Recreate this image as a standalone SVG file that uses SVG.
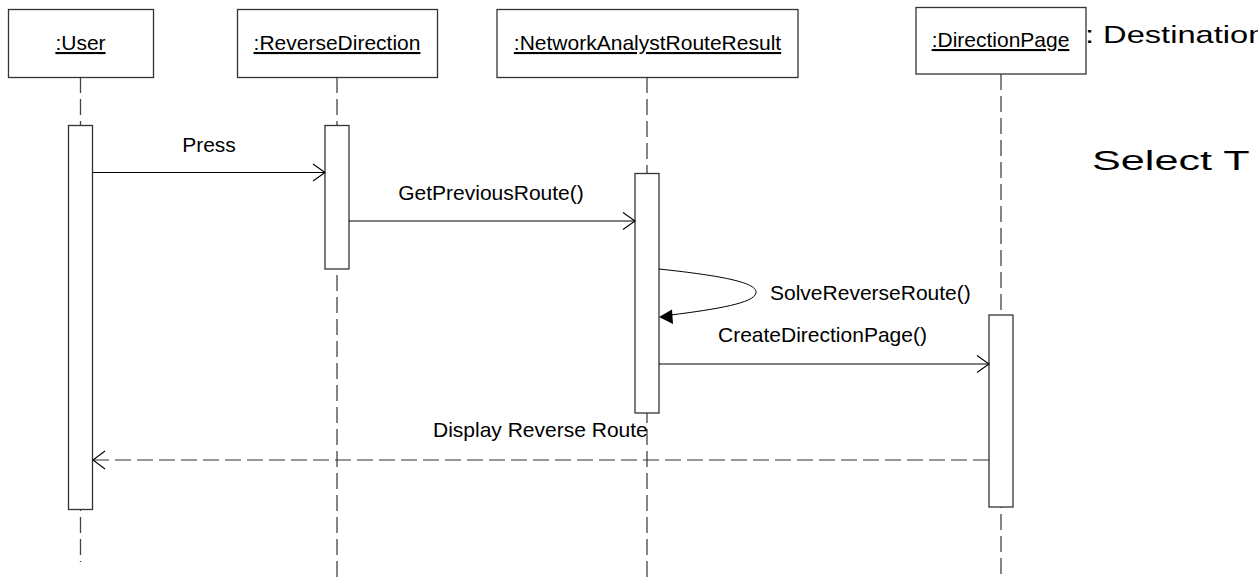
<svg xmlns="http://www.w3.org/2000/svg" width="1258" height="578" viewBox="0 0 1258 578">
  <style>
    .head { fill: #ffffff; stroke: #333333; stroke-width: 1.3; }
    .act { fill: #ffffff; stroke: #333333; stroke-width: 1.3; }
    .life { stroke: #444444; stroke-width: 1.3; stroke-dasharray: 16 6; fill: none; }
    .msg { stroke: #000000; stroke-width: 1; fill: none; }
    .ret { stroke: #333333; stroke-width: 1.2; stroke-dasharray: 16 6; fill: none; }
    .open { stroke: #000000; stroke-width: 1.1; fill: none; }
    .lbl { font-family: "Liberation Sans", Arial, sans-serif; font-size: 21px; fill: #000000; }
    .name { font-family: "Liberation Sans", Arial, sans-serif; font-size: 21px; fill: #000000; text-anchor: middle; text-decoration: underline; }
    .big { font-family: "Liberation Sans", Arial, sans-serif; fill: #000000; }
  </style>

  <!-- free-standing notes at the right edge, wide lettering -->
  <text class="big" font-size="24" transform="translate(1085 43) scale(1.36 1)">: Destination</text>
  <text class="big" font-size="27" transform="translate(1092 170) scale(1.6 1)">Select T</text>

  <!-- lifelines -->
  <g id="lifelines">
    <line class="life" x1="80.5" y1="77" x2="80.5" y2="562"/>
    <line class="life" x1="337" y1="77" x2="337" y2="578"/>
    <line class="life" x1="647" y1="77" x2="647" y2="578"/>
    <line class="life" x1="1001" y1="74" x2="1001" y2="578"/>
  </g>

  <g id="user">
    <rect class="head" x="8.5" y="9.5" width="145" height="68"/>
    <text class="name" x="80.5" y="50">:User</text>
    <rect class="act" x="68.5" y="125.5" width="24" height="384"/>
  </g>

  <g id="reverseDirection">
    <rect class="head" x="237.5" y="9.5" width="200" height="68"/>
    <text class="name" x="337" y="50">:ReverseDirection</text>
    <rect class="act" x="325" y="125.5" width="24" height="143.5"/>
  </g>

  <g id="networkAnalystRouteResult">
    <rect class="head" x="497" y="9.5" width="301" height="68"/>
    <text class="name" x="647.5" y="50">:NetworkAnalystRouteResult</text>
    <rect class="act" x="635" y="173.5" width="24" height="239.5"/>
  </g>

  <g id="directionPage">
    <rect class="head" x="916" y="7.5" width="170" height="66.5"/>
    <text class="name" x="1000.5" y="47">:DirectionPage</text>
    <rect class="act" x="989" y="315" width="24" height="192"/>
  </g>

  <!-- messages -->
  <g id="connectors">
    <line class="msg" x1="93" y1="172.5" x2="325" y2="172.5"/>
    <polyline class="open" points="313,164 325,172.5 313,181"/>
    <text class="lbl" x="209" y="152" text-anchor="middle">Press</text>

    <line class="msg" x1="349" y1="221" x2="635" y2="221"/>
    <polyline class="open" points="623,212.5 635,221 623,229.5"/>
    <text class="lbl" x="491" y="200" text-anchor="middle">GetPreviousRoute()</text>

    <path class="msg" d="M659,269 C725,276 758,283 756,293 C754,303 718,309 671,315"/>
    <polygon points="659,317 672,309.5 673,324" fill="#000000"/>
    <text class="lbl" x="770" y="300">SolveReverseRoute()</text>

    <line class="msg" x1="659" y1="364" x2="989" y2="364"/>
    <polyline class="open" points="977,355.5 989,364 977,372.5"/>
    <text class="lbl" x="718" y="342">CreateDirectionPage()</text>

    <line class="ret" x1="989" y1="460" x2="93" y2="460"/>
    <polyline class="open" points="105,451 93,460 105,469"/>
    <text class="lbl" x="433" y="437">Display Reverse Route</text>
  </g>
</svg>
